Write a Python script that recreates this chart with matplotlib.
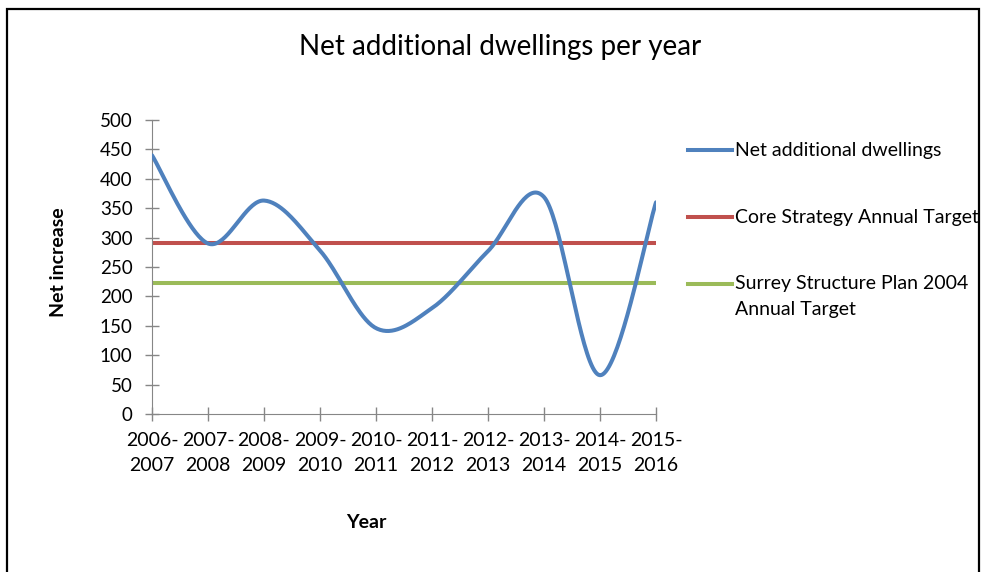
import numpy as np
import matplotlib
matplotlib.use("Agg")
import matplotlib.pyplot as plt
from matplotlib.lines import Line2D
from matplotlib.patches import Rectangle

years = ["2006-\n2007", "2007-\n2008", "2008-\n2009", "2009-\n2010", "2010-\n2011",
         "2011-\n2012", "2012-\n2013", "2013-\n2014", "2014-\n2015", "2015-\n2016"]
net_dwellings = [440, 290, 363, 278, 146, 180, 277, 369, 66, 360]
core_target = 291
surrey_target = 222

blue = "#4F81BD"
red = "#C0504D"
green = "#9BBB59"
grey = "#868686"

plt.rcParams["font.family"] = ["Lato", "DejaVu Sans"]


def smooth(xs, ys, n=40):
    # excel style smoothed line (catmull-rom as cubic bezier)
    xs = np.asarray(xs, float)
    ys = np.asarray(ys, float)
    px = np.concatenate([[xs[0]], xs, [xs[-1]]])
    py = np.concatenate([[ys[0]], ys, [ys[-1]]])
    t = np.linspace(0, 1, n)
    ox, oy = [], []
    for i in range(1, len(px) - 2):
        p0 = np.array([px[i], py[i]])
        p3 = np.array([px[i + 1], py[i + 1]])
        c1 = p0 + (np.array([px[i + 1], py[i + 1]]) - np.array([px[i - 1], py[i - 1]])) / 6
        c2 = p3 - (np.array([px[i + 2], py[i + 2]]) - p0) / 6
        b = ((1 - t) ** 3)[:, None] * p0 + (3 * (1 - t) ** 2 * t)[:, None] * c1 \
            + (3 * (1 - t) * t ** 2)[:, None] * c2 + (t ** 3)[:, None] * p3
        ox.append(b[:, 0])
        oy.append(b[:, 1])
    return np.concatenate(ox), np.concatenate(oy)


fig = plt.figure(figsize=(9.82, 5.72), dpi=100)
ax = fig.add_axes([152 / 982, 1 - 414 / 572, 504 / 982, 294 / 572])

x = np.arange(len(years))
sx, sy = smooth(x, net_dwellings)
ax.plot(sx, sy, color=blue, lw=2.9, solid_capstyle="round", zorder=3)
ax.plot(x, [core_target] * len(x), color=red, lw=2.9, zorder=2)
ax.plot(x, [surrey_target] * len(x), color=green, lw=2.9, zorder=2)

ax.set_xlim(0, len(years) - 1)
ax.set_ylim(0, 500)
ax.set_yticks(range(0, 501, 50))
ax.set_xticks(x)
ax.set_xticklabels(years, fontsize=14, linespacing=1.6)
ax.tick_params(axis="y", labelsize=13.5, pad=9)
ax.tick_params(direction="inout", length=10, color=grey, width=1)
ax.tick_params(axis="x", pad=8)
for s in ["top", "right"]:
    ax.spines[s].set_visible(False)
for s in ["left", "bottom"]:
    ax.spines[s].set_color(grey)

fig.text(500 / 982, 1 - 47 / 572, "Net additional dwellings per year", fontsize=20,
         ha="center", va="center")
fig.text(58 / 982, 1 - 262 / 572, "Net increase", fontsize=14, fontweight="bold",
         rotation=90, ha="center", va="center")
fig.text(366 / 982, 1 - 522 / 572, "Year", fontsize=14, fontweight="bold",
         ha="center", va="center")

# legend drawn by hand
entries = [("Net additional dwellings", blue, 150),
           ("Core Strategy Annual Target", red, 217),
           ("Surrey Structure Plan 2004", green, 284)]
for label, col, yp in entries:
    fig.add_artist(Line2D([688 / 982, 732 / 982], [1 - yp / 572] * 2, color=col, lw=2.9,
                          transform=fig.transFigure))
    fig.text(735 / 982, 1 - yp / 572, label, fontsize=14, ha="left", va="center")
fig.text(735 / 982, 1 - 310 / 572, "Annual Target", fontsize=14, ha="left", va="center")

# outer chart border
fig.add_artist(Rectangle((7 / 982, -0.05), 972 / 982, 1.05 - 9 / 572, fill=False,
                         edgecolor="black", lw=1.6, transform=fig.transFigure))

fig.savefig("out.png", dpi=100)
